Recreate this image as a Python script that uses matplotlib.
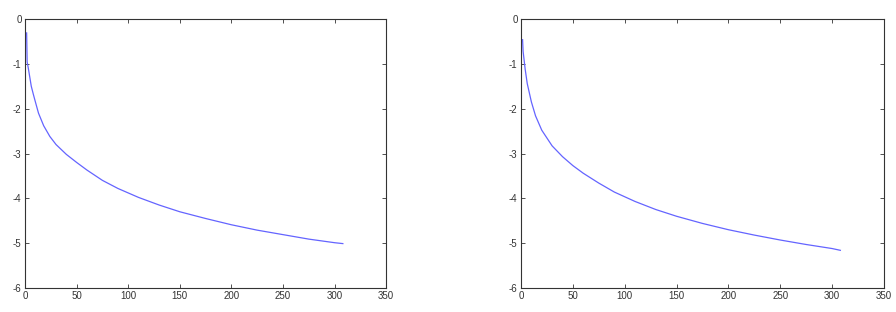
import matplotlib
matplotlib.use('Agg')
import matplotlib.pyplot as plt

# valores (izquierda y derecha)
x_izq = [1.5, 2, 3, 4, 6, 8, 10, 13, 18, 24, 30, 40, 50, 60, 75, 90, 110, 130, 150, 175, 200, 225, 250, 275, 300, 308]
y_izq = [-0.31, -0.96, -1.08, -1.22, -1.50, -1.68, -1.85, -2.10, -2.38, -2.62, -2.80, -3.02, -3.20, -3.37,
         -3.60, -3.78, -3.98, -4.15, -4.30, -4.45, -4.59, -4.71, -4.81, -4.91, -4.99, -5.01]

x_der = [1.5, 2, 4, 6, 10, 14, 20, 30, 40, 50, 60, 75, 90, 110, 130, 150, 175, 200, 225, 250, 275, 300, 308]
y_der = [-0.46, -0.72, -1.12, -1.44, -1.85, -2.16, -2.48, -2.83, -3.07, -3.27, -3.44, -3.66, -3.86, -4.07,
         -4.25, -4.40, -4.56, -4.70, -4.82, -4.93, -5.03, -5.12, -5.16]

xticks = [0, 50, 100, 150, 200, 250, 300, 350]
yticks = [-6, -5, -4, -3, -2, -1, 0]

plt.rcParams['axes.unicode_minus'] = False
plt.rcParams['font.family'] = 'Liberation Sans'

fig = plt.figure(figsize=(8.96, 3.12), dpi=100)
ax1 = fig.add_axes([0.028, 0.077, 0.403, 0.862])
ax2 = fig.add_axes([0.5815, 0.077, 0.405, 0.862])

for ax, x, y in [(ax1, x_izq, y_izq), (ax2, x_der, y_der)]:
    ax.plot(x, y, color='#6464ff', linewidth=0.9)
    ax.set_xlim(0, 350)
    ax.set_ylim(-6, 0)
    ax.set_xticks(xticks)
    ax.set_yticks(yticks)
    ax.tick_params(direction='in', top=True, right=True, labelsize=7,
                   length=3, width=0.6, colors='#333333', pad=2.5)
    for s in ax.spines.values():
        s.set_linewidth(0.8)
        s.set_color('#333333')

fig.savefig('out.png', dpi=100)
